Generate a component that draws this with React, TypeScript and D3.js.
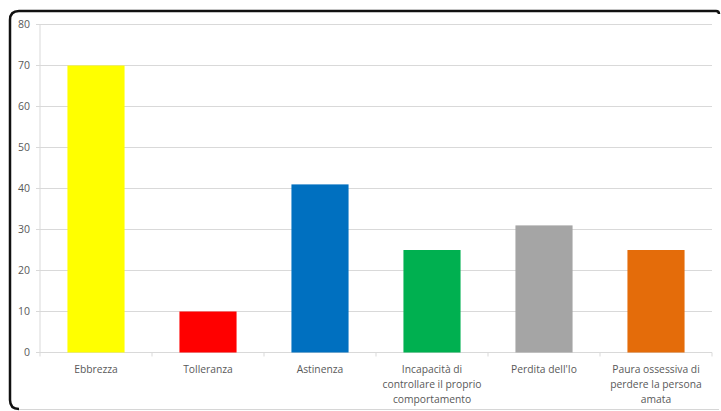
import React from "react";
import * as d3 from "d3";

const categories: string[][] = [
  ["Ebbrezza"],
  ["Tolleranza"],
  ["Astinenza"],
  ["Incapacità di", "controllare il proprio", "comportamento"],
  ["Perdita dell'Io"],
  ["Paura ossessiva di", "perdere la persona", "amata"],
];
const values: number[] = [70, 10, 41, 25, 31, 25];
const colors: string[] = ["#ffff00", "#ff0000", "#0070c0", "#00b050", "#a5a5a5", "#e46c0a"];
const yTicks: number[] = [0, 10, 20, 30, 40, 50, 60, 70, 80];

const W = 721;
const H = 411;
const plot = { left: 40, right: 712, top: 24.5, bottom: 352.5 };

export default function App() {
  const x = d3
    .scaleBand<number>()
    .domain(d3.range(values.length))
    .range([plot.left, plot.right])
    .paddingInner(0.49)
    .paddingOuter(0.245);
  const band = (plot.right - plot.left) / values.length;
  const y = d3.scaleLinear().domain([0, 80]).range([plot.bottom, plot.top]);
  const font = "'Open Sans', 'Liberation Sans', sans-serif";

  return (
    <svg
      width={W}
      height={H}
      style={{ position: "absolute", left: 0, top: 0, background: "#fff" }}
    >
      <rect x={0} y={0} width={W} height={H} fill="#fff" />
      {/* frame */}
      <path
        d={`M 10 400 L 10 20 Q 10 11 19 11 L 716 11 Q 719 11 719 14`}
        fill="none"
        stroke="#111"
        strokeWidth={2.5}
      />
      <path d={`M 10 400 Q 10 409 19 409`} fill="none" stroke="#111" strokeWidth={2.5} />
      <line x1={19} x2={719} y1={409.5} y2={409.5} stroke="#d6d6d6" strokeWidth={1} />

      {/* gridlines */}
      {yTicks.map((t) => (
        <g key={t}>
          <line
            x1={plot.left}
            x2={plot.right}
            y1={y(t)}
            y2={y(t)}
            stroke="#d9d9d9"
            strokeWidth={1}
          />
          <line x1={plot.left - 4} x2={plot.left} y1={y(t)} y2={y(t)} stroke="#d9d9d9" />
          <text
            x={30}
            y={y(t)}
            dy="0.35em"
            textAnchor="end"
            fontFamily={font}
            fontSize={10.5}
            fill="#595959"
          >
            {t}
          </text>
        </g>
      ))}
      <line x1={plot.left} x2={plot.left} y1={plot.top} y2={plot.bottom} stroke="#d9d9d9" />
      {d3.range(values.length + 1).map((i) => (
        <line
          key={i}
          x1={plot.left + i * band}
          x2={plot.left + i * band}
          y1={plot.bottom}
          y2={plot.bottom + 4}
          stroke="#d9d9d9"
        />
      ))}

      {/* bars */}
      {values.map((v, i) => (
        <rect
          key={i}
          x={x(i)}
          y={y(v)}
          width={x.bandwidth()}
          height={plot.bottom - y(v)}
          fill={colors[i]}
        />
      ))}

      {/* category labels */}
      {categories.map((lines, i) => (
        <text
          key={i}
          x={(x(i) ?? 0) + x.bandwidth() / 2}
          y={373}
          textAnchor="middle"
          fontFamily={font}
          fontSize={10.3}
          fill="#595959"
        >
          {lines.map((l, j) => (
            <tspan key={j} x={(x(i) ?? 0) + x.bandwidth() / 2} dy={j === 0 ? 0 : 15}>
              {l}
            </tspan>
          ))}
        </text>
      ))}
    </svg>
  );
}
